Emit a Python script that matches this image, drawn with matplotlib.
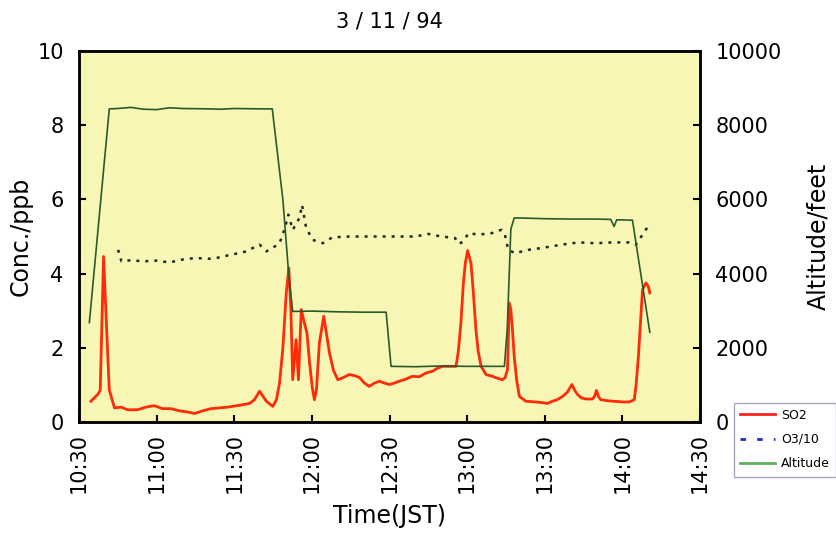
import matplotlib
matplotlib.use("Agg")
import matplotlib.pyplot as plt
from matplotlib.lines import Line2D
import numpy as np

plt.rcParams['font.family'] = ['DejaVu Sans']

# Flight of 3/11/94: time in minutes after 10:30 JST
so2_min = [4.6, 7.2, 8.2, 9.5, 10.5, 11.7, 13.7, 16.2, 18.8, 22.7, 25.8, 29.1, 32.3, 35.5,
           38.9, 42.0, 44.6, 47.8, 51.0, 54.3, 57.4, 62.0, 65.9, 67.8, 69.8, 72.4, 74.9,
           76.3, 77.5, 78.8, 80.1, 81.1, 81.9, 82.6, 83.9, 84.8, 85.9, 87.1, 88.1, 89.1,
           90.2, 91.0, 91.8, 92.9, 94.6, 95.6, 96.8, 98.3, 100.0, 102.2, 104.5, 106.4,
           108.4, 110.3, 112.2, 114.2, 116.1, 118.0, 120.0, 121.9, 123.8, 126.1, 128.8,
           131.5, 134.1, 136.7, 138.5, 140.5, 143.1, 145.7, 146.6, 147.6, 148.5, 149.3,
           150.2, 151.5, 152.4, 153.4, 154.3, 155.4, 157.3, 159.8, 161.7, 163.7, 164.7,
           165.6, 166.3, 166.9, 167.6, 168.2, 169.2, 170.2, 172.7, 176.6, 179.1, 181.0,
           183.0, 184.8, 186.9, 188.7, 190.5, 191.6, 192.7, 194.1, 195.9, 198.5, 199.3,
           200.0, 200.8, 201.7, 203.7, 206.2, 208.8, 210.7, 212.6, 214.6, 215.3, 216.2,
           217.1, 217.8, 219.1, 220.0, 220.6]
so2_ppb = [0.56, 0.74, 0.85, 4.46, 2.8, 0.87, 0.38, 0.40, 0.33, 0.33, 0.40, 0.44, 0.36, 0.36,
           0.30, 0.27, 0.23, 0.30, 0.36, 0.38, 0.40, 0.45, 0.50, 0.60, 0.83, 0.56, 0.42,
           0.60, 1.05, 2.0, 3.48, 4.15, 3.0, 1.14, 2.22, 1.14, 3.03, 2.67, 2.4, 1.6,
           0.9, 0.6, 0.9, 2.13, 2.85, 2.4, 1.86, 1.4, 1.14, 1.2, 1.28, 1.25,
           1.2, 1.05, 0.96, 1.05, 1.10, 1.05, 1.01, 1.05, 1.10, 1.15, 1.23,
           1.22, 1.32, 1.37, 1.45, 1.50, 1.50, 1.50, 1.9, 2.67, 3.7, 4.28,
           4.62, 4.28, 3.5, 2.49, 1.9, 1.50, 1.28, 1.23, 1.18, 1.14, 1.20,
           1.41, 3.21, 3.03, 2.4, 1.77, 1.1, 0.69, 0.56, 0.54, 0.52, 0.50,
           0.56, 0.60, 0.69, 0.80, 1.01, 0.85, 0.74, 0.65, 0.62, 0.62, 0.70,
           0.85, 0.68, 0.60, 0.58, 0.56, 0.55, 0.54, 0.54, 0.60, 1.0, 1.77,
           2.8, 3.57, 3.75, 3.66, 3.48]

o3_min = [15.1, 16.4, 20, 25, 30, 35, 40, 45, 50, 55, 58.4, 62, 64.6, 69.8, 72.4, 75, 77.5,
          79.6, 80.9, 82.6, 85.2, 86.2, 87.8, 90.3, 94.2, 98.0, 105, 110, 120, 130, 135,
          140, 145.3, 146.9, 148.6, 150.5, 154.4, 159.5, 163.3, 164.6, 165.9, 168.5,
          173.6, 178.8, 186.5, 193, 199.5, 206, 212.6, 215.2, 217.8, 219.7]
o3_div10 = [4.64, 4.33, 4.36, 4.33, 4.35, 4.30, 4.38, 4.42, 4.40, 4.44, 4.51, 4.55, 4.60, 4.78,
            4.60, 4.70, 4.82, 5.23, 5.59, 5.18, 5.50, 5.85, 5.23, 4.91, 4.82, 4.98, 5.0, 5.0,
            5.0, 5.0, 5.07, 5.0, 4.96, 4.80, 4.87, 5.09, 5.05, 5.09, 5.18, 5.05, 4.64, 4.55,
            4.64, 4.69, 4.78, 4.84, 4.82, 4.84, 4.84, 4.78, 5.05, 5.25]

alt_min = [4.0, 11.7, 15, 20, 25, 30, 35, 40, 50, 55, 60, 70, 74.7, 78.8, 81.1, 82.6, 90, 100,
           110, 118.7, 120.6, 130, 140, 150, 160, 164.4, 165.5, 166.9, 168.2, 170, 180, 190,
           200, 205.5, 206.8, 207.8, 213.9, 220.6]
alt_feet = [2680, 8440, 8450, 8480, 8430, 8420, 8470, 8450, 8440, 8430, 8450, 8440, 8440, 5990,
            3930, 2980, 2990, 2970, 2960, 2960, 1500, 1490, 1510, 1500, 1500, 1500, 2500, 5200,
            5500, 5500, 5480, 5470, 5470, 5460, 5270, 5450, 5440, 2420]

time_ticks = [0, 30, 60, 90, 120, 150, 180, 210, 240]
time_labels = ["10:30", "11:00", "11:30", "12:00", "12:30", "13:00", "13:30", "14:00", "14:30"]
conc_ticks = [0, 2, 4, 6, 8, 10]
alt_ticks = [0, 2000, 4000, 6000, 8000, 10000]

fig = plt.figure(figsize=(8.36, 5.40), dpi=100)
fig.patch.set_facecolor("white")
ax = fig.add_axes([79 / 836, 1 - 422 / 540, (700 - 79) / 836, (422 - 51) / 540])
ax.set_facecolor("#f8f6b4")

ax.plot(o3_min, o3_div10, color="#1c2a24", lw=1.8, dashes=(1.2, 2.4))
ax.plot(so2_min, so2_ppb, color="#ff2a08", lw=2.0)

ax2 = ax.twinx()
ax2.plot(alt_min, alt_feet, color="#2a5a2c", lw=1.2)

ax.set_xlim(0, 240)
ax.set_ylim(0, 10)
ax2.set_ylim(0, 10000)

ax.set_xticks(time_ticks)
ax.set_xticklabels(time_labels, rotation=90)
ax.set_yticks(conc_ticks)
ax.set_yticklabels([str(v) for v in conc_ticks])
ax2.set_yticks(alt_ticks)
ax2.set_yticklabels([str(v) for v in alt_ticks])

for a in (ax, ax2):
    for s in a.spines.values():
        s.set_linewidth(1.8)
        s.set_color("black")
ax.tick_params(axis="both", direction="in", length=5, width=1.5, labelsize=15, pad=11)
ax.tick_params(axis="x", pad=8)
ax2.tick_params(axis="y", direction="in", length=5, width=1.5, labelsize=15, pad=11)

ax.set_xlabel("Time(JST)", fontsize=17, labelpad=8)
ax.set_ylabel("Conc./ppb", fontsize=17, labelpad=3)
ax2.set_ylabel("Altitude/feet", fontsize=17, labelpad=18)
ax.set_title("3 / 11 / 94", fontsize=15, pad=17)

handles = [
    Line2D([], [], color="#ff2020", lw=2.0),
    Line2D([], [], color="#2030c0", lw=2.0, dashes=(2, 4)),
    Line2D([], [], color="#60b060", lw=2.0),
]
fig.legend(handles, ["SO2", "O3/10", "Altitude"], loc="upper left",
           bbox_to_anchor=(731 / 836, 1 - 400 / 540), fontsize=9, frameon=True,
           fancybox=False, edgecolor="#9090b0", handlelength=2.8, borderpad=0.5,
           labelspacing=0.9, handletextpad=0.5, borderaxespad=0.2)

fig.savefig("out.png", dpi=100, facecolor="white")
